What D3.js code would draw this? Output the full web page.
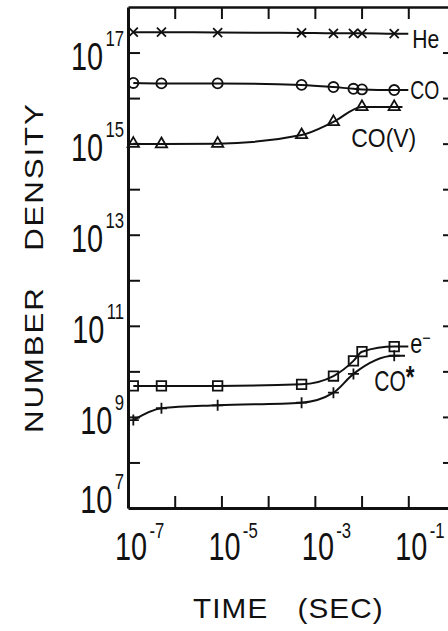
<!DOCTYPE html>
<html>
<head>
<meta charset="utf-8">
<script src="https://cdn.jsdelivr.net/npm/d3@7"></script>
<style>
    body { margin: 0; background: #fff; }
    svg { display: block; font-family: "Liberation Sans", Arial, sans-serif; }
</style>
</head>
<body>
<svg id="chart" width="448" height="631"></svg>
<script>
// values (number density vs time)
var times = [1.3e-7, 5.2e-7, 8.3e-6, 5.2e-4, 2.5e-3, 6.7e-3, 1.02e-2, 5e-2];
var heDensity = [2.8e17, 2.8e17, 2.75e17, 2.7e17, 2.65e17, 2.65e17, 2.65e17, 2.6e17];
var coDensity = [2.15e16, 2.1e16, 2.1e16, 1.95e16, 1.75e16, 1.6e16, 1.55e16, 1.5e16];
var coVibDensity = [1.0e15, 9.8e14, 1.0e15, 1.55e15, 3.0e15, null, 6.4e15, 6.4e15];
var electronDensity = [4.8e9, 4.8e9, 4.8e9, 5.2e9, 7.9e9, 1.7e10, 2.7e10, 3.5e10];
var coStarDensity = [8.5e8, 1.55e9, 1.8e9, 2.05e9, 3.4e9, 8.8e9, null, 2.2e10];
var lineEndTimes = [0.1, 0.1, 0.075, 0.1, 0.085];
var xLabelExps = ["-7", "-5", "-3", "-1"];
var yLabelExps = ["7", "9", "11", "13", "15", "17"];

var svg = d3.select("#chart");
var ink = "#111";

var x = d3.scaleLog().domain([1e-7, 1]).range([128, 455]);
var y = d3.scaleLog().domain([1e7, 1e18]).range([508, 7]);

var xDecades = d3.range(-6, 0).map(function(e) { return Math.pow(10, e); });
var yDecades = d3.range(8, 18).map(function(e) { return Math.pow(10, e); });

// frame with inward ticks on all four sides
function frame(axis, tx, ty, width) {
    var g = svg.append("g")
        .attr("transform", "translate(" + tx + "," + ty + ")")
        .call(axis.tickSizeInner(-12).tickSizeOuter(0).tickFormat(function() { return ""; }));
    g.select(".domain").attr("stroke", ink).attr("stroke-width", width);
    g.selectAll(".tick line").attr("stroke", ink).attr("stroke-width", 2);
}
frame(d3.axisBottom(x).tickValues(xDecades), 0, 508, 3);
frame(d3.axisTop(x).tickValues(xDecades), 0, 7, 2.5);
frame(d3.axisLeft(y).tickValues(yDecades), 128, 0, 3);
frame(d3.axisRight(y).tickValues(yDecades), 455, 0, 3);

// power-of-ten labels
function powerLabel(px, py, anchor, exp, supDy) {
    var t = svg.append("g")
        .attr("transform", "translate(" + px + "," + py + ") scale(0.76,1)")
        .append("text")
        .attr("text-anchor", anchor)
        .attr("font-size", 38)
        .attr("fill", ink);
    t.append("tspan").text("10");
    t.append("tspan").attr("font-size", 22).attr("dx", 3).attr("dy", supDy).text(exp);
}

yLabelExps.forEach(function(e) {
    var v = Math.pow(10, +e);
    var off = v === y.domain()[0] ? 5 : 17;
    powerLabel(124, y(v) + off, "end", e, -24);
});
xLabelExps.forEach(function(e) {
    powerLabel(x(Math.pow(10, +e)) - 13, 560, "start", e, -22);
});

// axis titles
var yTitle = svg.append("text")
    .attr("transform", "translate(43,433) rotate(-90) scale(1.25,1)")
    .attr("font-size", 25)
    .attr("fill", ink)
    .style("letter-spacing", "1.5px");
yTitle.append("tspan").text("NUMBER");
yTitle.append("tspan").attr("dx", 20).text(" DENSITY");

var xTitle = svg.append("text")
    .attr("transform", "translate(193,618) scale(1.1,1)")
    .attr("font-size", 27)
    .attr("fill", ink)
    .style("letter-spacing", "1px");
xTitle.append("tspan").text("TIME");
xTitle.append("tspan").attr("dx", 18).text(" (SEC)");

// markers
function plusPath(r) { return "M" + (-r) + ",0H" + r + "M0," + (-r) + "V" + r; }
function timesPath(r) { return "M" + (-r) + "," + (-r) + "L" + r + "," + r + "M" + (-r) + "," + r + "L" + r + "," + (-r); }

var series = [
    { name: "He", values: heDensity, marker: timesPath(4.5) },
    { name: "CO", values: coDensity, marker: d3.symbol(d3.symbolCircle, 80)() },
    { name: "CO(V)", values: coVibDensity, marker: d3.symbol(d3.symbolTriangle, 55)() },
    { name: "e", values: electronDensity, marker: d3.symbol(d3.symbolSquare, 90)() },
    { name: "CO*", values: coStarDensity, marker: plusPath(5.5) }
];

var line = d3.line()
    .x(function(d) { return x(d.t); })
    .y(function(d) { return y(d.v); })
    .curve(d3.curveMonotoneX);

series.forEach(function(s, i) {
    var pts = [];
    times.forEach(function(t, j) {
        if (s.values[j] != null) pts.push({ t: t, v: s.values[j] });
    });
    s.last = pts[pts.length - 1];
    var path = pts.concat([{ t: lineEndTimes[i], v: s.last.v }]);

    svg.append("path")
        .attr("d", line(path))
        .attr("fill", "none")
        .attr("stroke", ink)
        .attr("stroke-width", 2);

    svg.append("g").selectAll("path")
        .data(pts)
        .enter()
        .append("path")
        .attr("transform", function(d) { return "translate(" + x(d.t) + "," + y(d.v) + ")"; })
        .attr("d", s.marker)
        .attr("fill", "none")
        .attr("stroke", ink)
        .attr("stroke-width", 1.8);
});

// curve labels, placed relative to the end of each curve
function endX(i) { return x(lineEndTimes[i]); }

svg.append("text")
    .attr("x", endX(0) + 4).attr("y", y(series[0].last.v) + 14)
    .attr("font-size", 25).attr("fill", ink)
    .attr("textLength", 27).attr("lengthAdjust", "spacingAndGlyphs")
    .text("He");

svg.append("text")
    .attr("x", endX(1) + 2).attr("y", y(series[1].last.v) + 9)
    .attr("font-size", 25).attr("fill", ink)
    .attr("textLength", 29).attr("lengthAdjust", "spacingAndGlyphs")
    .text("CO");

svg.append("text")
    .attr("x", x(series[2].last.t) - 43).attr("y", y(series[2].last.v) + 40)
    .attr("font-size", 26).attr("fill", ink)
    .attr("textLength", 65).attr("lengthAdjust", "spacingAndGlyphs")
    .text("CO(V)");

var eLabel = svg.append("g")
    .attr("transform", "translate(" + (endX(3) + 2) + "," + (y(series[3].last.v) + 6) + ") scale(0.8,1)")
    .append("text")
    .attr("font-size", 27).attr("fill", ink);
eLabel.append("tspan").text("e");
eLabel.append("tspan").attr("font-size", 18).attr("dy", -9).text("\u2212");

var starLabel = svg.append("g")
    .attr("transform", "translate(" + (x(series[4].last.t) - 20) + "," + (y(series[4].last.v) + 35) + ") scale(0.7,1)")
    .append("text")
    .attr("font-size", 30).attr("fill", ink);
starLabel.append("tspan").text("CO");
starLabel.append("tspan").attr("font-size", 32).attr("font-weight", "bold").attr("dy", -3).text("*");
</script>
</body>
</html>
